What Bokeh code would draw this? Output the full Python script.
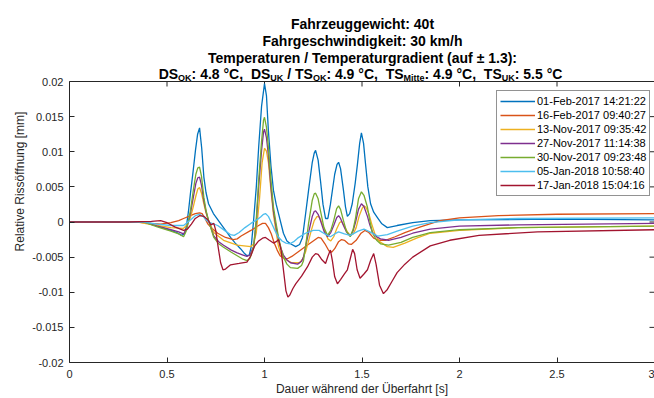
from bokeh.plotting import figure
from bokeh.models import Label, Span, FixedTicker, CustomJSTickFormatter, Range1d, Legend, LegendItem
from bokeh.embed import file_html
from bokeh.resources import INLINE

# ---------------- texts ----------------
title_lines = ["Fahrzeuggewicht: 40t",
               "Fahrgeschwindigkeit: 30 km/h",
               "Temperaturen / Temperaturgradient (auf \u00b1 1.3):"]
# (text, is_subscript)
temp_segments = [("DS", 0), ("OK", 1), (": 4.8 \u00b0C,", 0), ("  DS", 0), ("UK", 1),
                 (" / TS", 0), ("OK", 1), (": 4.9 \u00b0C,", 0), ("  TS", 0), ("Mitte", 1),
                 (": 4.9 \u00b0C,", 0), ("  TS", 0), ("UK", 1), (": 5.5 \u00b0C", 0)]
x_label = "Dauer w\u00e4hrend der \u00dcberfahrt [s]"
y_label = "Relative Riss\u00f6ffnung [mm]"

x_ticks = [0, 0.5, 1, 1.5, 2, 2.5, 3]
x_tick_labels = ["0", "0.5", "1", "1.5", "2", "2.5", "3"]
y_ticks = [-0.02, -0.015, -0.01, -0.005, 0, 0.005, 0.01, 0.015, 0.02]
y_tick_labels = ["-0.02", "-0.015", "-0.01", "-0.005", "0", "0.005", "0.01", "0.015", "0.02"]

series_names = ["01-Feb-2017 14:21:22", "16-Feb-2017 09:40:27", "13-Nov-2017 09:35:42",
                "27-Nov-2017 11:14:38", "30-Nov-2017 09:23:48", "05-Jan-2018 10:58:40",
                "17-Jan-2018 15:04:16"]
series_colors = ["#0072BD", "#D95319", "#EDB120", "#7E2F8E", "#77AC30", "#4DBEEE", "#A2142F"]

# ---------------- data (time [s], opening [mm]) ----------------
pts_feb01 = [(0, 0), (0.2, 0), (0.38, 0), (0.45, -0.0006), (0.52, -0.0012), (0.55, -0.0015),
             (0.575, -0.0019), (0.59, -0.0017), (0.60, -0.0005), (0.61, 0.0015), (0.62, 0.004),
             (0.633, 0.007), (0.646, 0.0102), (0.657, 0.0125), (0.667, 0.0134), (0.678, 0.0105),
             (0.689, 0.0064), (0.70, 0.0042), (0.713, 0.0026), (0.738, 0.0012), (0.774, -0.0002),
             (0.80, -0.0012), (0.826, -0.0022), (0.85, -0.003), (0.877, -0.0038), (0.895, -0.0044),
             (0.91, -0.0048), (0.922, -0.0047), (0.932, -0.0035), (0.944, 0.0002), (0.958, 0.005),
             (0.97, 0.0106), (0.985, 0.0165), (1.0, 0.0197), (1.01, 0.018), (1.02, 0.013),
             (1.033, 0.008), (1.046, 0.0045), (1.06, 0.0025), (1.072, 0.0012), (1.097, -0.0016),
             (1.115, -0.0027), (1.133, -0.0031), (1.16, -0.0035), (1.18, -0.0032), (1.195, -0.0022),
             (1.21, 0.001), (1.226, 0.0045), (1.245, 0.0085), (1.255, 0.0098), (1.262, 0.0102),
             (1.275, 0.0088), (1.287, 0.0059), (1.30, 0.0025), (1.313, 0.0005), (1.325, 0.0005),
             (1.338, 0.0025), (1.36, 0.0068), (1.372, 0.0082), (1.38, 0.0085), (1.39, 0.0076),
             (1.405, 0.0045), (1.415, 0.0022), (1.425, 0.0008), (1.437, 0.0012), (1.45, 0.0026),
             (1.465, 0.0055), (1.477, 0.0083), (1.488, 0.0112), (1.497, 0.0127), (1.508, 0.0112),
             (1.518, 0.0083), (1.53, 0.005), (1.544, 0.0026), (1.56, 0.0014), (1.58, 0.0006),
             (1.60, -0.0002), (1.63, -0.0008), (1.68, -0.0005), (1.76, -0.0001), (1.85, 0.0002),
             (2.0, 0.0003), (2.5, 0.0004), (3.0, 0.0003)]

pts_feb16 = [(0, 0), (0.35, 0), (0.42, -0.0002), (0.467, -0.0003), (0.52, -0.0001), (0.56, 0.0002),
             (0.585, 0.0005), (0.62, 0.0009), (0.645, 0.0012), (0.667, 0.0013), (0.68, 0.0012),
             (0.695, 0.0005), (0.71, -0.0003), (0.73, -0.0009), (0.76, -0.0016), (0.80, -0.0022),
             (0.84, -0.0025), (0.86, -0.0024), (0.88, -0.002), (0.93, -0.0012), (0.97, -0.0005),
             (0.99, -0.0002), (1.005, -0.0002), (1.02, -0.0008), (1.035, -0.0017), (1.05, -0.003),
             (1.065, -0.004), (1.08, -0.0048), (1.10, -0.0052), (1.12, -0.0052), (1.14, -0.0049),
             (1.17, -0.0043), (1.21, -0.0035), (1.25, -0.0027), (1.275, -0.0022), (1.29, -0.0023),
             (1.31, -0.0031), (1.33, -0.0041), (1.345, -0.0043), (1.36, -0.0038), (1.38, -0.0028),
             (1.395, -0.0025), (1.41, -0.0026), (1.43, -0.0031), (1.445, -0.0032), (1.47, -0.0026),
             (1.495, -0.0016), (1.515, -0.0012), (1.535, -0.0015), (1.56, -0.0023), (1.585, -0.0026),
             (1.62, -0.0026), (1.67, -0.0021), (1.72, -0.0015), (1.80, -0.0007), (1.9, 0.0002),
             (2.0, 0.0006), (2.2, 0.0009), (2.5, 0.0011), (3.0, 0.0012)]

pts_nov13 = [(0, 0), (0.35, 0), (0.45, -0.0005), (0.52, -0.0008), (0.585, -0.0009), (0.60, -0.0005),
             (0.62, 0.0006), (0.635, 0.0022), (0.648, 0.0037), (0.658, 0.0047), (0.667, 0.0049),
             (0.677, 0.0041), (0.689, 0.0026), (0.70, 0.0013), (0.713, 0.0002), (0.74, -0.0015),
             (0.79, -0.0026), (0.86, -0.0033), (0.93, -0.0035), (0.945, -0.0031), (0.958, -0.0015),
             (0.975, 0.0035), (0.988, 0.0085), (1.0, 0.0105), (1.01, 0.0101), (1.02, 0.0085),
             (1.033, 0.0045), (1.046, 0.001), (1.06, -0.0015), (1.072, -0.0035), (1.085, -0.0046),
             (1.1, -0.0052), (1.14, -0.0058), (1.18, -0.0058), (1.195, -0.0053), (1.21, -0.0043),
             (1.225, -0.0028), (1.24, -0.0012), (1.255, 0.0002), (1.27, 0.0008), (1.282, 0.0007),
             (1.295, -0.0002), (1.31, -0.0014), (1.325, -0.0024), (1.34, -0.0027), (1.355, -0.0021),
             (1.37, -0.001), (1.385, -0.0001), (1.395, 0.0001), (1.41, -0.0006), (1.425, -0.0014),
             (1.44, -0.0019), (1.455, -0.0017), (1.47, -0.0008), (1.485, 0.0008), (1.50, 0.0019),
             (1.51, 0.0023), (1.52, 0.0021), (1.535, 0.0012), (1.55, -0.0003), (1.565, -0.0016),
             (1.59, -0.0028), (1.63, -0.0035), (1.66, -0.0036), (1.72, -0.003), (1.78, -0.0023),
             (1.85, -0.0016), (2.0, -0.0012), (2.3, -0.0008), (3.0, -0.0006)]

pts_nov27 = [(0, 0), (0.38, 0), (0.45, -0.0006), (0.52, -0.0011), (0.56, -0.0014), (0.585, -0.0017),
             (0.60, -0.001), (0.62, 0.0012), (0.635, 0.0035), (0.648, 0.0055), (0.658, 0.0063),
             (0.667, 0.0064), (0.677, 0.0052), (0.689, 0.003), (0.70, 0.0015), (0.713, 0.0002),
             (0.74, -0.002), (0.765, -0.0028), (0.79, -0.0033), (0.83, -0.004), (0.86, -0.0044),
             (0.89, -0.0047), (0.91, -0.0049), (0.925, -0.0047), (0.944, -0.0035), (0.958, 0.0),
             (0.97, 0.005), (0.985, 0.0102), (0.995, 0.0128), (1.0, 0.0132), (1.01, 0.012),
             (1.02, 0.0095), (1.033, 0.005), (1.046, 0.0015), (1.06, -0.0008), (1.072, -0.0025),
             (1.085, -0.0038), (1.097, -0.0047), (1.115, -0.0054), (1.133, -0.0058), (1.17, -0.006),
             (1.19, -0.0056), (1.2, -0.005), (1.213, -0.0032), (1.226, -0.0015), (1.245, 0.0008),
             (1.255, 0.0015), (1.262, 0.0016), (1.275, 0.0011), (1.287, 0.0002), (1.305, -0.0013),
             (1.323, -0.0021), (1.34, -0.0015), (1.355, -0.0005), (1.37, 0.0006), (1.38, 0.0009),
             (1.39, 0.0005), (1.405, -0.0005), (1.42, -0.0014), (1.44, -0.002), (1.455, -0.0012),
             (1.467, 0.0), (1.482, 0.0018), (1.497, 0.0026), (1.51, 0.0022), (1.528, 0.0008),
             (1.54, -0.0004), (1.554, -0.0015), (1.575, -0.0021), (1.595, -0.0024), (1.636, -0.0026),
             (1.70, -0.0022), (1.76, -0.0016), (1.85, -0.001), (2.0, -0.0006), (2.3, -0.0004),
             (3.0, -0.0002)]

pts_nov30 = [(0, 0), (0.38, 0), (0.45, -0.0007), (0.52, -0.0013), (0.56, -0.0017), (0.585, -0.0021),
             (0.60, -0.0012), (0.62, 0.0016), (0.635, 0.0045), (0.648, 0.0068), (0.658, 0.0077),
             (0.667, 0.0078), (0.677, 0.0065), (0.689, 0.0035), (0.70, 0.0017), (0.713, 0.0002),
             (0.74, -0.0022), (0.765, -0.0031), (0.79, -0.0036), (0.83, -0.0043), (0.86, -0.0048),
             (0.89, -0.0053), (0.91, -0.0055), (0.925, -0.0052), (0.944, -0.0036), (0.958, 0.0005),
             (0.97, 0.0059), (0.985, 0.0115), (0.995, 0.0145), (1.0, 0.0149), (1.01, 0.0135),
             (1.02, 0.0106), (1.033, 0.006), (1.046, 0.0021), (1.06, -0.0003), (1.072, -0.0022),
             (1.085, -0.0038), (1.097, -0.005), (1.115, -0.006), (1.133, -0.0065), (1.17, -0.0066),
             (1.19, -0.0062), (1.2, -0.0055), (1.213, -0.003), (1.226, -0.0002), (1.245, 0.0031),
             (1.255, 0.004), (1.262, 0.0041), (1.275, 0.0033), (1.287, 0.0016), (1.305, -0.0008),
             (1.323, -0.0019), (1.34, -0.0012), (1.355, 0.0002), (1.37, 0.0019), (1.38, 0.0023),
             (1.39, 0.0018), (1.405, 0.0002), (1.42, -0.0013), (1.44, -0.0021), (1.455, -0.001),
             (1.467, 0.0006), (1.482, 0.0033), (1.497, 0.0043), (1.51, 0.0038), (1.528, 0.0021),
             (1.54, 0.0002), (1.554, -0.0016), (1.575, -0.0026), (1.595, -0.0031), (1.636, -0.0033),
             (1.70, -0.0029), (1.76, -0.0022), (1.85, -0.0015), (2.0, -0.0011), (2.3, -0.0008),
             (3.0, -0.0006)]

pts_jan05 = [(0, 0), (0.38, 0), (0.45, -0.0003), (0.52, -0.0005), (0.585, -0.0005), (0.62, 0.0003),
             (0.645, 0.0009), (0.667, 0.0011), (0.685, 0.0008), (0.70, 0.0003), (0.72, -0.0001),
             (0.76, -0.0005), (0.80, -0.0013), (0.825, -0.0018), (0.845, -0.0019), (0.87, -0.0015),
             (0.90, -0.0008), (0.93, -0.0002), (0.96, 0.0003), (0.98, 0.0007), (0.995, 0.0011),
             (1.005, 0.0012), (1.02, 0.0008), (1.04, -0.0004), (1.055, -0.0013), (1.07, -0.0021),
             (1.09, -0.0027), (1.11, -0.003), (1.13, -0.0031), (1.15, -0.0028), (1.17, -0.0023),
             (1.21, -0.0016), (1.25, -0.0012), (1.28, -0.0012), (1.31, -0.0017), (1.338, -0.0021),
             (1.36, -0.0017), (1.38, -0.0014), (1.41, -0.0017), (1.44, -0.0019), (1.48, -0.0013),
             (1.51, -0.001), (1.54, -0.0014), (1.58, -0.002), (1.63, -0.0018), (1.68, -0.0013),
             (1.76, -0.0006), (1.85, -0.0001), (2.0, 0.0003), (2.3, 0.0005), (3.0, 0.0006)]

pts_jan17 = [(0, 0), (0.3, 0), (0.42, 0.0001), (0.467, 0.0002), (0.50, -0.0001), (0.54, -0.0007),
             (0.585, -0.0012), (0.605, -0.001), (0.625, -0.0003), (0.645, 0.0005), (0.667, 0.0009),
             (0.69, 0.0008), (0.71, 0.0003), (0.725, -0.0004), (0.74, -0.0002), (0.75, -0.0012),
             (0.762, -0.0035), (0.775, -0.0058), (0.787, -0.0068), (0.80, -0.0067), (0.826, -0.0061),
             (0.87, -0.0059), (0.91, -0.0057), (0.93, -0.0048), (0.95, -0.0034), (0.97, -0.0027),
             (0.99, -0.0023), (1.005, -0.0022), (1.025, -0.0026), (1.046, -0.003), (1.06, -0.0028),
             (1.072, -0.0025), (1.085, -0.004), (1.10, -0.0075), (1.11, -0.0098), (1.12, -0.0107),
             (1.13, -0.0104), (1.145, -0.0095), (1.16, -0.0088), (1.19, -0.0077), (1.22, -0.0064),
             (1.245, -0.005), (1.262, -0.0045), (1.275, -0.0046), (1.292, -0.0053), (1.313, -0.0059),
             (1.325, -0.0049), (1.338, -0.004), (1.348, -0.0055), (1.36, -0.0078), (1.374, -0.0088),
             (1.39, -0.0082), (1.41, -0.0074), (1.425, -0.0068), (1.44, -0.0052), (1.452, -0.0039),
             (1.462, -0.0045), (1.475, -0.0068), (1.49, -0.008), (1.51, -0.0074), (1.528, -0.0068),
             (1.545, -0.0054), (1.56, -0.0045), (1.572, -0.006), (1.59, -0.009), (1.61, -0.0102),
             (1.63, -0.0096), (1.655, -0.0084), (1.68, -0.0072), (1.72, -0.006), (1.76, -0.005),
             (1.85, -0.0034), (1.95, -0.0026), (2.1, -0.0019), (2.4, -0.0014), (3.0, -0.0011)]

series_pts = [pts_feb01, pts_feb16, pts_nov13, pts_nov27, pts_nov30, pts_jan05, pts_jan17]

# ---------------- layout constants (pixels) ----------------
FONT = "Liberation Sans"
AX = "#262626"
W_PX, H_PX = 654, 398
LEFT, BOTTOM, AXES_TOP = 69, 36, 81          # axes box: x 69..654, y 81..362 (canvas px)
Y0, Y1 = y_ticks[0], y_ticks[-1]
X0, X1 = x_ticks[0], x_ticks[-1]
frame_h = H_PX - BOTTOM                       # frame spans canvas top .. 362
ypp = (Y1 - Y0) / (frame_h - AXES_TOP)        # data per pixel (y)
xpp = (X1 - X0) / (W_PX - LEFT)               # data per pixel (x)
y_top = Y1 + AXES_TOP * ypp                   # room for the title inside the frame

p = figure(width=W_PX, height=H_PX, output_backend="svg", toolbar_location=None,
           x_range=Range1d(X0, X1), y_range=Range1d(Y0, y_top),
           min_border_left=LEFT, min_border_right=0, min_border_top=0, min_border_bottom=BOTTOM)
p.outline_line_color = None
p.xgrid.visible = False
p.ygrid.visible = False
p.background_fill_color = "white"
p.border_fill_color = "white"

fmt = CustomJSTickFormatter(code="return Number(tick.toFixed(4)).toString();")

for ax, ticks, labels, lab in ((p.xaxis[0], x_ticks, x_tick_labels, x_label),
                               (p.yaxis[0], y_ticks, y_tick_labels, y_label)):
    ax.ticker = FixedTicker(ticks=ticks)
    ax.formatter = fmt
    ax.major_label_overrides = {float(t): l for t, l in zip(ticks, labels)}
    ax.major_tick_in = 5
    ax.major_tick_out = 0
    ax.minor_tick_line_color = None
    ax.major_tick_line_color = AX
    ax.axis_line_color = AX
    ax.major_label_text_font = FONT
    ax.major_label_text_font_size = "11px"
    ax.major_label_text_color = AX
    ax.axis_label = lab
    ax.axis_label_text_font = FONT
    ax.axis_label_text_font_size = "12px"
    ax.axis_label_text_font_style = "normal"
    ax.axis_label_text_color = AX
p.xaxis[0].major_label_standoff = 7
p.xaxis[0].axis_label_standoff = 1
p.yaxis[0].major_label_standoff = 6
p.yaxis[0].axis_label_standoff = 2
p.yaxis[0].bounds = (Y0, Y1)

# top edge of the axes box and inward ticks on the top / right edges
p.add_layout(Span(location=Y1, dimension="width", line_color=AX, line_width=1))
p.segment(x0=x_ticks, x1=x_ticks, y0=[Y1] * len(x_ticks), y1=[Y1 - 5 * ypp] * len(x_ticks),
          line_color=AX, line_width=1)
p.segment(x0=[X1] * len(y_ticks), x1=[X1 - 5 * xpp] * len(y_ticks), y0=y_ticks, y1=y_ticks,
          line_color=AX, line_width=1)

items = []
for pts, c, n in zip(series_pts, series_colors, series_names):
    r = p.line([a for a, _ in pts], [b for _, b in pts], line_color=c, line_width=1.3)
    items.append(LegendItem(label=n, renderers=[r]))

leg = Legend(items=items, location=(427, 166))
leg.border_line_color = AX
leg.border_line_width = 1
leg.padding = 3
leg.spacing = 0
leg.margin = 0
leg.glyph_width = 35
leg.glyph_height = 14
leg.label_height = 14
leg.label_standoff = 2
leg.label_text_font = FONT
leg.label_text_font_size = "11px"
leg.label_text_color = "#000000"
leg.background_fill_color = "white"
leg.background_fill_alpha = 1
p.add_layout(leg, "center")

# ---------------- title (inside the upper, empty part of the frame) ----------------
W = {' ': 278, ',': 278, '.': 278, ':': 333, '/': 278, '\u00b0': 400, 'C': 722, 'D': 722,
     'S': 667, 'T': 611, 'O': 778, 'K': 722, 'U': 722, 'M': 833, 'i': 278, 't': 333, 'e': 556}

def tw(s, size):
    return sum(W.get(ch, 556) for ch in s) * size / 1000.0

def dx(px):
    return X0 + (px - LEFT) * xpp

def dy(px):
    return Y1 + (AXES_TOP - px) * ypp

MAIN, SUB = 14, 9
for txt, yb in zip(title_lines, [23, 40, 57]):
    p.add_layout(Label(x=dx(362), y=dy(yb), text=txt,
                       text_font=FONT, text_font_style="bold", text_font_size=f"{MAIN}px",
                       text_align="center", text_baseline="alphabetic", text_color="black"))

total = sum(tw(s, SUB if sb else MAIN) for s, sb in temp_segments)
cursor = 360 - total / 2.0
for s, sb in temp_segments:
    size = SUB if sb else MAIN
    lead = len(s) - len(s.lstrip())
    xs = cursor + tw(s[:lead], size)
    p.add_layout(Label(x=dx(xs), y=dy(77 if sb else 73.5), text=s.strip(),
                       text_font=FONT, text_font_style="bold", text_font_size=f"{size}px",
                       text_align="left", text_baseline="alphabetic", text_color="black"))
    cursor += tw(s, size)

open("out.html", "w").write(file_html(p, INLINE))
